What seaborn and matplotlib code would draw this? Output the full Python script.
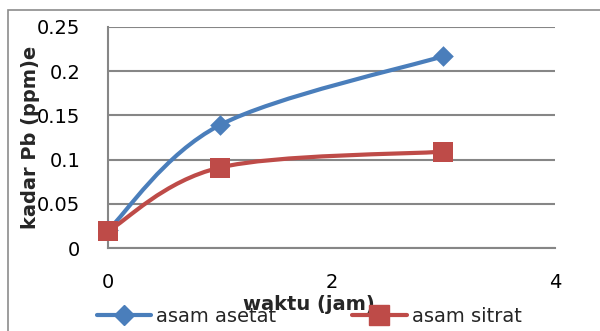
import matplotlib
matplotlib.use("Agg")
import matplotlib.pyplot as plt
from matplotlib.path import Path
from matplotlib.patches import PathPatch, Rectangle
from matplotlib.lines import Line2D
import numpy as np
import pandas as pd
import seaborn as sns

# Lead content over time for two extracting acids
waktu = [0, 1, 3]
asam_asetat = [0.02, 0.139, 0.217]
asam_sitrat = [0.019, 0.091, 0.109]
series_names = ["asam asetat", "asam sitrat"]
x_ticks = [0, 2, 4]
y_ticks = [0, 0.05, 0.1, 0.15, 0.2, 0.25]
y_ticklabels = ["0", "0.05", "0.1", "0.15", "0.2", "0.25"]

df = pd.DataFrame({
    "waktu": waktu * 2,
    "kadar": asam_asetat + asam_sitrat,
    "seri": [series_names[0]] * 3 + [series_names[1]] * 3,
})

sns.set_style("white")
plt.rcParams["font.family"] = ["DejaVu Sans"]

BLUE = "#4A7EBB"
RED = "#BE4B48"
GRID = "#868686"
FS = 14

fig = plt.figure(figsize=(6.0, 3.31), dpi=100)
ax = fig.add_axes([108 / 600, 1 - 248 / 331, (555 - 108) / 600, (248 - 27) / 331])


def smooth_path(xs, ys):
    """Catmull-Rom style cubic Bezier through the given points."""
    pts = np.column_stack([xs, ys]).astype(float)
    n = len(pts)
    verts = [pts[0]]
    codes = [Path.MOVETO]
    for i in range(n - 1):
        p_prev = pts[i - 1] if i > 0 else pts[i]
        p0, p1 = pts[i], pts[i + 1]
        p_next = pts[i + 2] if i + 2 < n else pts[i + 1]
        c1 = p0 + (p1 - p_prev) / 6.0
        c2 = p1 - (p_next - p0) / 6.0
        verts += [c1, c2, p1]
        codes += [Path.CURVE4] * 3
    return Path(verts, codes)


for name, color, marker, ms in [(series_names[0], BLUE, "D", 10.5),
                                (series_names[1], RED, "s", 14)]:
    sub = df[df["seri"] == name]
    ax.add_patch(PathPatch(smooth_path(sub["waktu"], sub["kadar"]),
                           facecolor="none", edgecolor=color, lw=3.0,
                           capstyle="round", zorder=3))
    sns.scatterplot(data=sub, x="waktu", y="kadar", ax=ax, color=color,
                    marker=marker, s=ms ** 2, edgecolor=color, linewidth=0,
                    zorder=4, legend=False, clip_on=False)

ax.set_xlim(0, 4)
ax.set_ylim(0, 0.25)
ax.set_xticks(x_ticks)
ax.set_yticks(y_ticks)
ax.set_yticklabels(y_ticklabels)
ax.set_xlabel("")
ax.set_ylabel("")
ax.tick_params(axis="both", length=0, labelsize=FS, colors="black")
ax.tick_params(axis="x", pad=18)
ax.tick_params(axis="y", pad=20)
ax.yaxis.grid(True, color=GRID, lw=1.5)
ax.xaxis.grid(False)
for side in ["top", "right"]:
    ax.spines[side].set_visible(False)
ax.spines["left"].set_color(GRID)
ax.spines["left"].set_linewidth(1.5)
ax.spines["bottom"].set_color(GRID)
ax.spines["bottom"].set_linewidth(1.5)

# chart area border
fig.patches.append(Rectangle((8 / 600, -0.1), 1.0, 1 - 10 / 331 + 0.1,
                             transform=fig.transFigure, fill=False,
                             edgecolor="#8C8C8C", lw=1.2, zorder=0))

fig.text(309 / 600, 1 - 305 / 331, "waktu (jam)", ha="center", va="center",
         fontsize=FS, fontweight="bold")
fig.text(31 / 600, 1 - 137 / 331, "kadar Pb (ppm)e", ha="center", va="center",
         rotation=90, fontsize=FS, fontweight="bold")

handles = [
    Line2D([], [], color=BLUE, lw=3.0, marker="D", markersize=10.5, solid_capstyle="round"),
    Line2D([], [], color=RED, lw=3.0, marker="s", markersize=14, solid_capstyle="round"),
]
fig.legend(handles, series_names, loc="center left",
           bbox_to_anchor=(97 / 600, 1 - 316 / 331), ncol=2, frameon=False,
           fontsize=FS, handlelength=2.8, handletextpad=0.25,
           columnspacing=3.9, borderpad=0, borderaxespad=0)

fig.savefig("out.png", dpi=100)
